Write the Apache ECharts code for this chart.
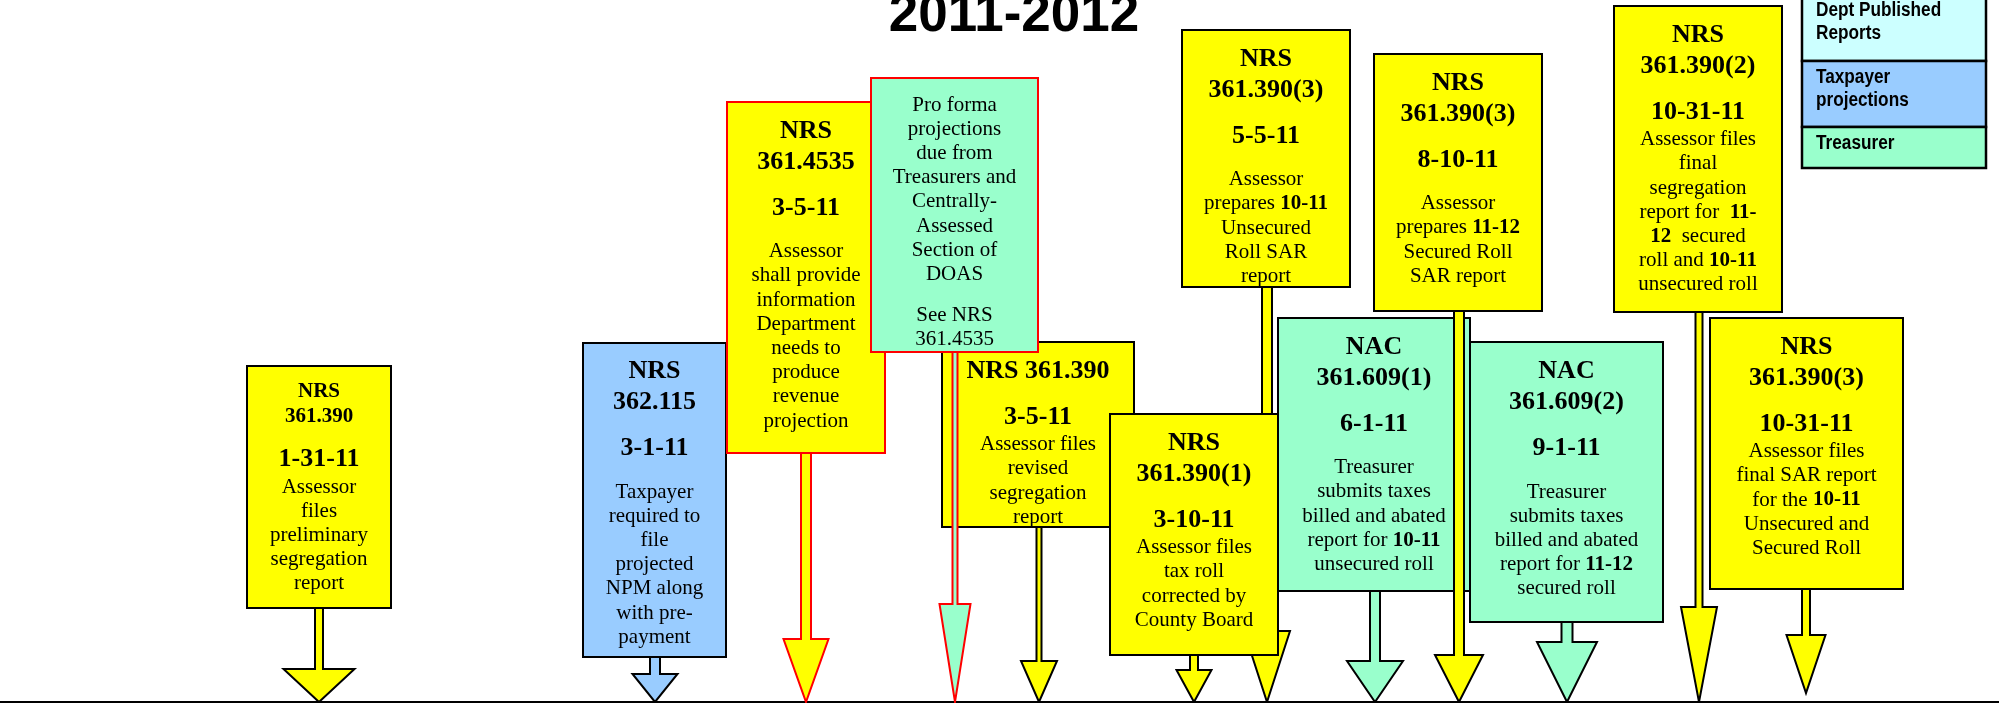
<!DOCTYPE html>
<html>
  <head>
    <meta charset="utf-8" />
    <title>Timeline 2011-2012</title>
    <script src="https://cdn.jsdelivr.net/npm/echarts@6/dist/echarts.min.js"></script>
    <style>
      html,
      body {
        margin: 0;
        padding: 0;
        background: #ffffff;
      }
      #main {
        width: 2007px;
        height: 703px;
      }
    </style>
  </head>
  <body>
    <div id="main"></div>
    <script type="text/javascript">
      // ---- chart content ----
      var title = '2011-2012';

      var codes = [
        ['NRS', '361.390'],
        ['NRS', '362.115'],
        ['NRS', '361.4535'],
        [],
        ['NRS 361.390'],
        ['NRS', '361.390(1)'],
        ['NRS', '361.390(3)'],
        ['NAC', '361.609(1)'],
        ['NRS', '361.390(3)'],
        ['NAC', '361.609(2)'],
        ['NRS', '361.390(2)'],
        ['NRS', '361.390(3)']
      ];
      var dates = ['1-31-11', '3-1-11', '3-5-11', '', '3-5-11', '3-10-11', '5-5-11',
                   '6-1-11', '8-10-11', '9-1-11', '10-31-11', '10-31-11'];
      // *...* = bold run
      var notes = [
        ['Assessor', 'files', 'preliminary', 'segregation', 'report'],
        ['Taxpayer', 'required to', 'file', 'projected', 'NPM along', 'with pre-', 'payment'],
        ['Assessor', 'shall provide', 'information', 'Department', 'needs to', 'produce', 'revenue', 'projection'],
        ['Pro forma', 'projections', 'due from', 'Treasurers and', 'Centrally-', 'Assessed', 'Section of', 'DOAS', '', 'See NRS', '361.4535'],
        ['Assessor files', 'revised', 'segregation', 'report'],
        ['Assessor files', 'tax roll', 'corrected by', 'County Board'],
        ['Assessor', 'prepares *10-11*', 'Unsecured', 'Roll SAR', 'report'],
        ['Treasurer', 'submits taxes', 'billed and abated', 'report for *10-11*', 'unsecured roll'],
        ['Assessor', 'prepares *11-12*', 'Secured Roll', 'SAR report'],
        ['Treasurer', 'submits taxes', 'billed and abated', 'report for *11-12*', 'secured roll'],
        ['Assessor files', 'final', 'segregation', 'report for  *11-*', '*12*  secured', 'roll and *10-11*', 'unsecured roll'],
        ['Assessor files', 'final SAR report', 'for the *10-11*', 'Unsecured and', 'Secured Roll']
      ];
      var kinds = ['Assessor', 'Taxpayer', 'Assessor', 'Treasurer', 'Assessor', 'Assessor',
                   'Assessor', 'Treasurer', 'Assessor', 'Treasurer', 'Assessor', 'Assessor'];
      var legendNames = ['Dept Published\nReports', 'Taxpayer\nprojections', 'Treasurer'];

      // ---- layout (units of the hidden 2007 x 703 axes) ----
      var boxLeft   = [247, 583, 727, 871, 942, 1110, 1182, 1278, 1374, 1470, 1614, 1710];
      var boxRight  = [391, 726, 885, 1038, 1134, 1278, 1350, 1470, 1542, 1663, 1782, 1903];
      var boxTop    = [366, 343, 102, 78, 342, 414, 30, 318, 54, 342, 6, 318];
      var boxBottom = [608, 657, 453, 352, 527, 655, 287, 591, 311, 622, 312, 589];
      var textPad   = [13, 13, 13.5, 15, 13.5, 13.5, 13.5, 13.5, 13.5, 14, 13.5, 13.5];
      var dateGap   = [0, 1, 1, 0, 0, 0, 1, 1, 1, 1, 0, 0];
      var arrowX    = [319, 655, 806, 955, 1039, 1194, 1267, 1375, 1459, 1567, 1699, 1806];
      var stemWidth = [8, 10, 10, 5, 5, 8, 10, 10, 10, 11, 7, 8];
      var headTop   = [669, 674, 639, 604, 661, 670, 631, 661, 655, 642, 607, 635];
      var headWidth = [71, 45, 45, 31, 36, 35, 46, 56, 48, 60, 36, 39];
      var tipY      = [702, 702, 702, 702, 702, 702, 702, 702, 702, 702, 702, 693];
      var drawOrder = [0, 1, 2, 4, 3, 6, 5, 7, 8, 9, 10, 11];
      var legendLeft = 1802, legendRight = 1986;
      var legendTop = [-6, 61, 127], legendBottom = [61, 127, 168];
      var baseline = [[0, 702], [1999, 702]];

      // ---- styles ----
      var kindColor = { Assessor: '#FFFF00', Taxpayer: '#99CCFF', Treasurer: '#99FFCC' };
      var legendColors = ['#CCFFFF', '#99CCFF', '#99FFCC'];
      var redEdge = [false, false, true, true, false, false, false, false, false, false, false, false];
      var serif = "'Liberation Serif', 'Times New Roman', serif";
      var sans = "'Liberation Sans', Arial, sans-serif";
      var rich = {
        h:  { fontFamily: serif, fontWeight: 'bold', fontSize: 26, lineHeight: 31 },
        hs: { fontFamily: serif, fontWeight: 'bold', fontSize: 21, lineHeight: 25 },
        d:  { fontFamily: serif, fontWeight: 'bold', fontSize: 26, lineHeight: 31 },
        t:  { fontFamily: serif, fontSize: 21, lineHeight: 24.2 },
        b:  { fontFamily: serif, fontWeight: 'bold', fontSize: 21, lineHeight: 24.2 },
        g1: { fontFamily: serif, fontSize: 8, lineHeight: 15 },
        g2: { fontFamily: serif, fontSize: 8, lineHeight: 16 },
        g3: { fontFamily: serif, fontSize: 8, lineHeight: 17 }
      };

      function noteLine(s) {
        if (!s) return '{g3| }';
        return s.split('*').map(function (part, k) {
          return part ? '{' + (k % 2 ? 'b' : 't') + '|' + part + '}' : '';
        }).join('');
      }

      function boxText(i) {
        var rows = [];
        codes[i].forEach(function (c) {
          rows.push('{' + (i === 0 ? 'hs' : 'h') + '|' + c + '}');
        });
        if (dates[i]) {
          rows.push('{g1| }');
          rows.push('{d|' + dates[i] + '}');
          if (dateGap[i]) rows.push('{g2| }');
        }
        notes[i].forEach(function (n) { rows.push(noteLine(n)); });
        return rows.join('\n');
      }

      function renderCallout(params, api) {
        var i = api.value(0);
        var z = params.dataIndex * 3;
        var lt = api.coord([boxLeft[i], boxTop[i]]);
        var rb = api.coord([boxRight[i], boxBottom[i]]);
        var stem = api.coord([arrowX[i], boxBottom[i]]);
        var head = api.coord([arrowX[i], headTop[i]]);
        var tip = api.coord([arrowX[i], tipY[i]]);
        var sw = api.size([stemWidth[i], 0])[0] / 2;
        var hw = api.size([headWidth[i], 0])[0] / 2;
        var x = tip[0];
        var fill = kindColor[kinds[i]];
        var edge = redEdge[i] ? '#FF0000' : '#000000';
        return {
          type: 'group',
          children: [
            {
              type: 'polygon',
              z2: z,
              shape: {
                points: [
                  [x - sw, stem[1] - 2], [x - sw, head[1]], [x - hw, head[1]], [x, tip[1]],
                  [x + hw, head[1]], [x + sw, head[1]], [x + sw, stem[1] - 2]
                ]
              },
              style: { fill: fill, stroke: edge, lineWidth: 2, lineJoin: 'miter' }
            },
            {
              type: 'rect',
              z2: z + 1,
              shape: { x: lt[0], y: lt[1], width: rb[0] - lt[0], height: rb[1] - lt[1] },
              style: { fill: fill, stroke: edge, lineWidth: 2 }
            },
            {
              type: 'text',
              z2: z + 2,
              style: {
                x: (lt[0] + rb[0]) / 2,
                y: lt[1] + textPad[i],
                text: boxText(i),
                rich: rich,
                align: 'center',
                verticalAlign: 'top',
                fill: '#000000'
              }
            }
          ]
        };
      }

      function renderLegend(params, api) {
        var i = api.value(0);
        var lt = api.coord([legendLeft, legendTop[i]]);
        var rb = api.coord([legendRight, legendBottom[i]]);
        return {
          type: 'group',
          children: [
            {
              type: 'rect',
              shape: { x: lt[0], y: lt[1], width: rb[0] - lt[0], height: rb[1] - lt[1] },
              style: { fill: legendColors[i], stroke: '#000000', lineWidth: 2.5 }
            },
            {
              type: 'text',
              x: lt[0] + 14,
              y: lt[1] + 4.5,
              scaleX: 0.86,
              style: {
                x: 0,
                y: 0,
                text: legendNames[i],
                fontFamily: sans,
                fontWeight: 'bold',
                fontSize: 20,
                lineHeight: 23,
                align: 'left',
                verticalAlign: 'top',
                fill: '#000000'
              }
            }
          ]
        };
      }

      var chartDom = document.getElementById('main');
      var myChart = echarts.init(chartDom);
      var option = {
        animation: false,
        backgroundColor: '#ffffff',
        title: {
          text: title,
          left: 1014,
          top: -10,
          textAlign: 'center',
          padding: 0,
          textStyle: {
            fontFamily: "'Liberation Sans', Arial, sans-serif",
            fontWeight: 'bold',
            fontSize: 53,
            color: '#000000'
          }
        },
        grid: { left: 0, right: 0, top: 0, bottom: 0 },
        xAxis: { type: 'value', min: 0, max: 2007, show: false },
        yAxis: { type: 'value', min: 0, max: 703, inverse: true, show: false },
        series: [
          {
            type: 'line',
            data: baseline,
            symbol: 'none',
            silent: true,
            z: 1,
            lineStyle: { color: '#000000', width: 2 }
          },
          {
            type: 'custom',
            renderItem: renderCallout,
            data: drawOrder.map(function (i) { return [i]; }),
            clip: false,
            silent: true,
            z: 2
          },
          {
            type: 'custom',
            renderItem: renderLegend,
            data: legendNames.map(function (n, i) { return [i]; }),
            clip: false,
            silent: true,
            z: 3
          }
        ]
      };
      myChart.setOption(option);
    </script>
  </body>
</html>
